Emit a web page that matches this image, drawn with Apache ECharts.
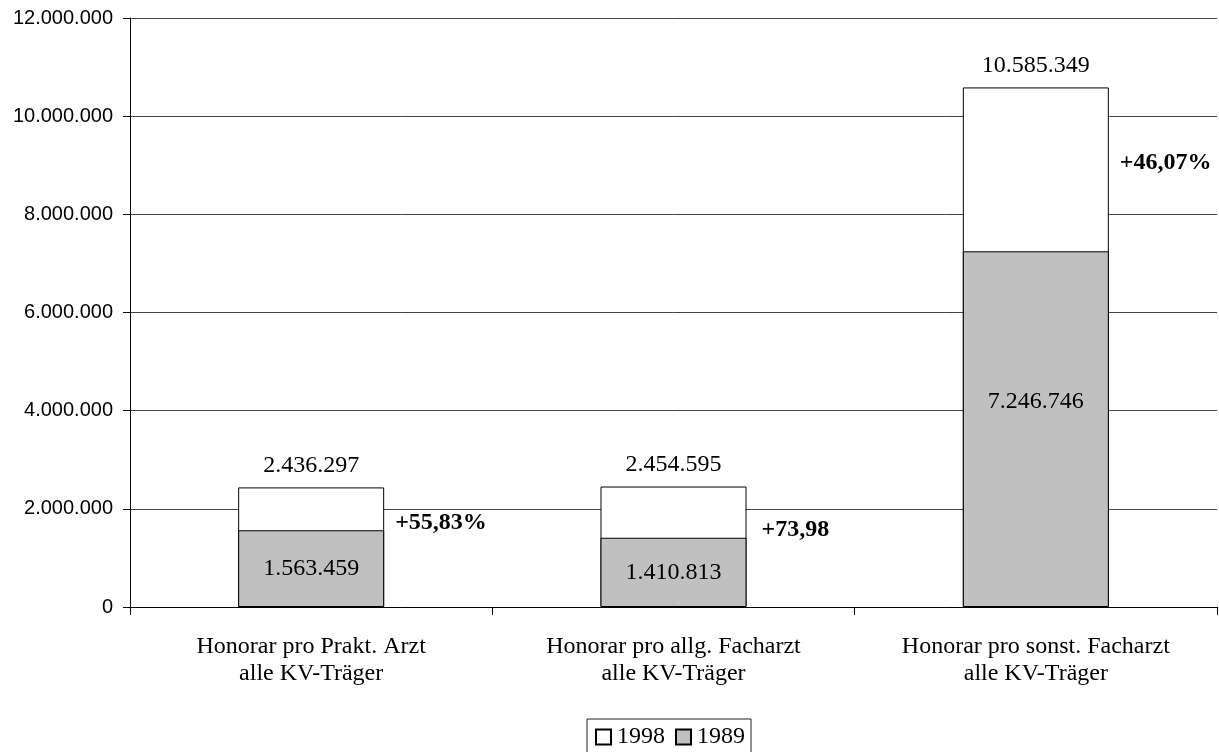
<!DOCTYPE html>
<html>
<head>
<meta charset="utf-8">
<script src="https://cdn.jsdelivr.net/npm/echarts@6/dist/echarts.min.js"></script>
<style>
  html, body { margin: 0; padding: 0; background: #fff; }
  #chart { width: 1219px; height: 752px; }
</style>
</head>
<body>
<div id="chart"></div>
<script>
// Honorare je Arztgruppe, alle KV-Träger: 1989 vs. 1998
const categories = [
  'Honorar pro Prakt. Arzt\nalle KV-Träger',
  'Honorar pro allg. Facharzt\nalle KV-Träger',
  'Honorar pro sonst. Facharzt\nalle KV-Träger'
];
const values1998 = [2436297, 2454595, 10585349];
const values1989 = [1563459, 1410813, 7246746];
const changeLabels = ['+55,83%', '+73,98', '+46,07%'];
const yTicks = { min: 0, max: 12000000, interval: 2000000 };

// German thousands separator
function fmt(v) {
  return String(Math.round(v)).replace(/\B(?=(\d{3})+(?!\d))/g, '.');
}

const serif = '"Liberation Serif", "Times New Roman", serif';
const sans = '"Liberation Sans", Arial, sans-serif';

// label placement for the change annotations (right of each bar)
const changeLabelOffsets = [[6, -24], [10, -17], [6, -184]];
const innerLabelOffsets = [[0, 0], [0, 0], [0, -27]];

const chart = echarts.init(document.getElementById('chart'), null, { renderer: 'canvas' });

chart.setOption({
  animation: false,
  backgroundColor: '#fff',
  grid: { left: 130, right: 2, top: 18, bottom: 145, containLabel: false },
  legend: {
    data: ['1998', '1989'],
    left: 587,
    top: 719,
    orient: 'horizontal',
    itemWidth: 15,
    itemHeight: 15,
    itemGap: 10,
    padding: [6, 6, 6, 8],
    borderColor: '#222',
    borderWidth: 1,
    icon: 'rect',
    textStyle: { fontFamily: serif, fontSize: 24, color: '#000', padding: [0, 0, 0, 1] }
  },
  xAxis: {
    type: 'category',
    data: categories,
    axisLine: { show: true, lineStyle: { color: '#000', width: 1 } },
    axisTick: { show: true, alignWithLabel: false, length: 8, lineStyle: { color: '#000' } },
    axisLabel: {
      fontFamily: serif, fontSize: 24, color: '#000',
      lineHeight: 27, margin: 26, interval: 0
    },
    splitLine: { show: false }
  },
  yAxis: {
    type: 'value',
    min: yTicks.min,
    max: yTicks.max,
    interval: yTicks.interval,
    axisLine: { show: true, lineStyle: { color: '#000', width: 1 } },
    axisTick: { show: true, length: 7, lineStyle: { color: '#000' } },
    axisLabel: {
      fontFamily: sans, fontSize: 20, color: '#000', margin: 17,
      formatter: v => fmt(v)
    },
    splitLine: { show: true, lineStyle: { color: '#444', width: 1 } }
  },
  series: [
    {
      name: '1998',
      type: 'bar',
      data: values1998,
      barWidth: 146,
      barGap: '-100%',
      z: 2,
      itemStyle: { color: '#fff', borderColor: '#000', borderWidth: 1 },
      label: {
        show: true, position: 'top', distance: 10,
        fontFamily: serif, fontSize: 24, color: '#000',
        formatter: p => fmt(p.value)
      }
    },
    {
      name: '1989',
      type: 'bar',
      data: values1989.map((v, i) => ({
        value: v,
        label: { offset: innerLabelOffsets[i] }
      })),
      barWidth: 146,
      barGap: '-100%',
      z: 3,
      itemStyle: { color: '#c0c0c0', borderColor: '#000', borderWidth: 1 },
      label: {
        show: true, position: 'inside',
        fontFamily: serif, fontSize: 24, color: '#000',
        formatter: p => fmt(p.value)
      }
    },
    {
      name: 'Veränderung',
      type: 'bar',
      data: values1998.map((v, i) => ({
        value: v,
        label: { offset: changeLabelOffsets[i], formatter: changeLabels[i] }
      })),
      barWidth: 146,
      barGap: '-100%',
      z: 4,
      silent: true,
      itemStyle: { color: 'rgba(0,0,0,0)', borderWidth: 0 },
      label: {
        show: true, position: 'right', distance: 5,
        fontFamily: serif, fontSize: 24, fontWeight: 'bold', color: '#000'
      }
    }
  ]
});
</script>
</body>
</html>
